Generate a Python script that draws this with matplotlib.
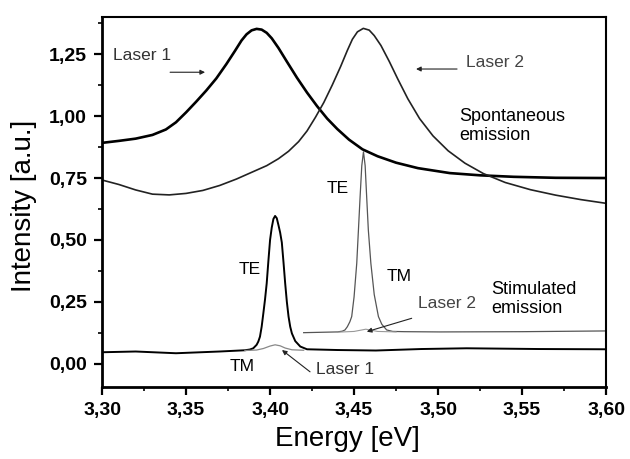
import matplotlib
matplotlib.use("Agg")
import matplotlib.pyplot as plt
from matplotlib.ticker import MultipleLocator, FuncFormatter

plt.rcParams["font.family"] = ["Liberation Sans", "DejaVu Sans"]

# spontaneous emission, laser 1 (thick) and laser 2 (thin)
spont1_e = [3.300, 3.310, 3.320, 3.330, 3.338, 3.344, 3.350, 3.356, 3.362, 3.368,
            3.374, 3.379, 3.383, 3.386, 3.389, 3.392, 3.395, 3.398, 3.401, 3.405,
            3.410, 3.416, 3.422, 3.428, 3.434, 3.440, 3.447, 3.455, 3.464, 3.475,
            3.488, 3.507, 3.525, 3.545, 3.570, 3.600]
spont1_i = [0.892, 0.900, 0.909, 0.924, 0.946, 0.975, 1.015, 1.058, 1.103, 1.152,
            1.210, 1.262, 1.305, 1.330, 1.346, 1.352, 1.349, 1.336, 1.314, 1.275,
            1.220, 1.155, 1.095, 1.040, 0.990, 0.948, 0.905, 0.866, 0.838, 0.812,
            0.790, 0.770, 0.761, 0.755, 0.751, 0.750]

spont2_e = [3.300, 3.310, 3.320, 3.330, 3.340, 3.350, 3.360, 3.370, 3.380, 3.390,
            3.398, 3.405, 3.411, 3.417, 3.422, 3.427, 3.432, 3.437, 3.442, 3.446,
            3.449, 3.452, 3.4555, 3.459, 3.462, 3.466, 3.471, 3.476, 3.482, 3.489,
            3.497, 3.506, 3.516, 3.527, 3.540, 3.555, 3.570, 3.585, 3.600]
spont2_i = [0.742, 0.724, 0.702, 0.685, 0.682, 0.688, 0.700, 0.720, 0.746, 0.776,
            0.800, 0.828, 0.858, 0.897, 0.940, 0.995, 1.055, 1.125, 1.200, 1.265,
            1.310, 1.340, 1.354, 1.347, 1.325, 1.285, 1.220, 1.150, 1.070, 0.990,
            0.920, 0.860, 0.810, 0.768, 0.732, 0.703, 0.681, 0.663, 0.648]

# stimulated emission, laser 1
stim1_te_e = [3.300, 3.320, 3.344, 3.370, 3.385, 3.388, 3.390, 3.392, 3.393, 3.394,
              3.395, 3.396, 3.397, 3.398, 3.399, 3.400, 3.401, 3.402, 3.403, 3.404,
              3.405, 3.406, 3.407, 3.408, 3.409, 3.410, 3.411, 3.412, 3.413, 3.415,
              3.418, 3.422, 3.440, 3.463, 3.490, 3.517, 3.560, 3.600]
stim1_te_i = [0.047, 0.050, 0.043, 0.050, 0.055, 0.058, 0.063, 0.077, 0.090, 0.110,
              0.150, 0.204, 0.260, 0.325, 0.415, 0.500, 0.550, 0.585, 0.597, 0.588,
              0.560, 0.530, 0.490, 0.410, 0.325, 0.250, 0.191, 0.150, 0.123, 0.092,
              0.070, 0.059, 0.056, 0.054, 0.060, 0.063, 0.060, 0.059]
stim1_tm_e = [3.385, 3.392, 3.396, 3.400, 3.403, 3.406, 3.409, 3.413, 3.420]
stim1_tm_i = [0.054, 0.056, 0.062, 0.072, 0.077, 0.073, 0.064, 0.057, 0.055]

# stimulated emission, laser 2
stim2_te_e = [3.420, 3.440, 3.443, 3.4446, 3.446, 3.4475, 3.4486, 3.450, 3.4516,
              3.4526, 3.4536, 3.4546, 3.4556, 3.4566, 3.4575, 3.4585, 3.460, 3.462,
              3.4645, 3.4665, 3.4694, 3.473, 3.480, 3.501, 3.550, 3.600]
stim2_te_i = [0.126, 0.129, 0.132, 0.137, 0.150, 0.170, 0.191, 0.270, 0.406,
              0.540, 0.675, 0.800, 0.856, 0.800, 0.675, 0.540, 0.406, 0.280,
              0.191, 0.160, 0.137, 0.131, 0.130, 0.129, 0.130, 0.133]
stim2_tm_e = [3.440, 3.450, 3.457, 3.464, 3.475]
stim2_tm_i = [0.128, 0.131, 0.140, 0.131, 0.129]

fig = plt.figure(figsize=(6.3, 4.59), dpi=100)
ax = fig.add_axes([0.162, 0.157, 0.8, 0.806])

ax.plot(spont1_e, spont1_i, color="black", lw=1.9)
ax.plot(spont2_e, spont2_i, color="#222222", lw=1.2)
ax.plot(stim1_te_e, stim1_te_i, color="black", lw=1.4)
ax.plot(stim1_tm_e, stim1_tm_i, color="#888888", lw=0.9)
ax.plot(stim2_te_e, stim2_te_i, color="#555555", lw=0.9)
ax.plot(stim2_tm_e, stim2_tm_i, color="#999999", lw=0.8)

ax.set_xlim(3.30, 3.60)
ax.set_ylim(-0.093, 1.40)
ax.xaxis.set_major_locator(MultipleLocator(0.05))
ax.xaxis.set_minor_locator(MultipleLocator(0.025))
ax.yaxis.set_major_locator(MultipleLocator(0.25))
ax.yaxis.set_minor_locator(MultipleLocator(0.125))
comma = FuncFormatter(lambda v, p: f"{v:.2f}".replace(".", ","))
ax.xaxis.set_major_formatter(comma)
ax.yaxis.set_major_formatter(comma)
ax.tick_params(which="major", direction="out", length=6, width=1.6,
               labelsize=14, pad=5, top=False, right=False)
ax.tick_params(which="minor", direction="out", length=3, width=1.2,
               top=False, right=False)
for lab in ax.get_xticklabels() + ax.get_yticklabels():
    lab.set_fontweight("bold")
for side, w in (("left", 2.0), ("bottom", 2.0), ("top", 1.5), ("right", 1.5)):
    ax.spines[side].set_linewidth(w)

ax.set_xlabel("Energy [eV]", fontsize=20)
ax.set_ylabel("Intensity [a.u.]", fontsize=20)
ax.xaxis.set_label_coords(0.486, -0.105)
ax.yaxis.set_label_coords(-0.129, 0.489)

# annotations
txt = dict(fontsize=12.5, va="center", ha="left")
ax.text(3.3065, 1.246, "Laser 1", color="#333333", **txt)
ax.text(3.5167, 1.218, "Laser 2", color="#444444", **txt)
ax.text(3.5125, 0.96, "Spontaneous\nemission", linespacing=1.15,
        **dict(txt, fontsize=13))
ax.text(3.4338, 0.708, "TE", **txt)
ax.text(3.3811, 0.379, "TE", **txt)
ax.text(3.4694, 0.352, "TM", **txt)
ax.text(3.5314, 0.262, "Stimulated\nemission", linespacing=1.1,
        **dict(txt, fontsize=13))
ax.text(3.488, 0.245, "Laser 2", color="#444444", **txt)
ax.text(3.3762, -0.011, "TM", **txt)
ax.text(3.4274, -0.024, "Laser 1", color="#333333", **txt)

arr = dict(arrowstyle="-|>", color="#222222", lw=0.8, mutation_scale=7,
           shrinkA=0, shrinkB=0)
ax.annotate("", xy=(3.3613, 1.177), xytext=(3.3405, 1.177), arrowprops=arr)
ax.annotate("", xy=(3.4869, 1.19), xytext=(3.5113, 1.19), arrowprops=arr)
ax.annotate("", xy=(3.4576, 0.130), xytext=(3.4843, 0.184), arrowprops=arr)
ax.annotate("", xy=(3.4071, 0.056), xytext=(3.4238, -0.032), arrowprops=arr)

fig.savefig("out.png", dpi=100, facecolor="white")
